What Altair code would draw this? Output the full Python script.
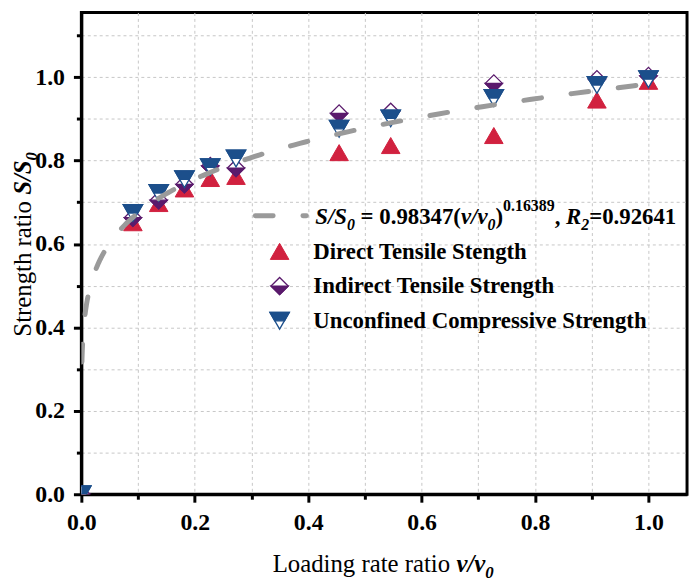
import altair as alt
import numpy as np
import pandas as pd

# ---------------- data ----------------
ratio = [0.0, 0.0909, 0.1364, 0.1818, 0.2273, 0.2727, 0.4545, 0.5455, 0.7273, 0.9091, 1.0]
direct_tensile = [0.0, 0.651, 0.697, 0.732, 0.757, 0.762, 0.819, 0.836, 0.860, 0.945, 0.990]
indirect_tensile = [0.0, 0.663, 0.705, 0.743, 0.787, 0.782, 0.913, 0.917, 0.985, 0.995, 1.003]
unconfined_comp = [0.0, 0.674, 0.722, 0.755, 0.784, 0.805, 0.876, 0.901, 0.950, 0.981, 0.995]

fit_a = 0.98347
fit_b = 0.16389
fit_x = list(np.geomspace(0.001, 1.0, 240))
fit_y = [fit_a * v ** fit_b for v in fit_x]

x_ticks = [round(i * 0.1, 1) for i in range(11)]
y_ticks = [round(i * 0.1, 1) for i in range(12)]

legend_labels = ["Direct Tensile Stength", "Indirect Tensile Strength",
                 "Unconfined Compressive Strength"]

# ---------------- style ----------------
RED = "#d1213f"
PURPLE = "#5a1a6c"
BLUE = "#1c4f8b"
GREY = "#9a9a9a"
FONT = "Liberation Serif"

W, H = 611, 486
XS = alt.Scale(domain=[0, 1.068], nice=False, zero=False)
YS = alt.Scale(domain=[0, 1.155], nice=False, zero=False)

even = "round(datum.value*10) % 2 == 0"


def make_axis(values, pad):
    return alt.Axis(
        values=values,
        labelExpr=f"{even} ? format(datum.value, '.1f') : ''",
        tickSize={"condition": {"test": even, "value": 8}, "value": 5},
        tickWidth=3, tickColor="black",
        domainWidth=3, domainColor="black",
        grid=True, gridDash=[3, 3], gridColor="#c6c6c6", gridWidth=1,
        labelFont=FONT, labelFontSize=24, labelFontWeight="bold",
        labelColor="black", labelPadding=pad, labelFlush=False,
        labelOverlap=False, title=None,
    )


XAX = make_axis(x_ticks, 9)
YAX = make_axis(y_ticks, 9)

TRI_UP = "M0,-0.866L1,0.866L-1,0.866Z"
TRI_DOWN = "M-1,-0.866L1,-0.866L0,0.866Z"
TRI_DOWN_TOP = "M-1,-0.866L1,-0.866L0.5,0L-0.5,0Z"
DIAM = "M-1,0L0,-1L1,0L0,1Z"
DIAM_BOT = "M-1,0L1,0L0,1Z"

S_RED, S_DIA, S_UCS = 350, 300, 380


def enc(ch):
    return ch.encode(
        x=alt.X("x:Q", scale=XS, axis=XAX),
        y=alt.Y("y:Q", scale=YS, axis=YAX),
    )


df_d = pd.DataFrame({"x": ratio, "y": direct_tensile})
df_i = pd.DataFrame({"x": ratio, "y": indirect_tensile})
df_u = pd.DataFrame({"x": ratio, "y": unconfined_comp})
df_f = pd.DataFrame({"x": fit_x, "y": fit_y})

layers = []
layers.append(enc(alt.Chart(df_d).mark_point(shape=TRI_UP, size=S_RED, filled=True,
                                             fill=RED, stroke=RED, strokeWidth=1, opacity=1, clip=True)))
layers.append(enc(alt.Chart(df_i).mark_point(shape=DIAM, size=S_DIA, filled=True,
                                             fill="white", stroke=PURPLE, strokeWidth=1.3, opacity=1, clip=True)))
layers.append(enc(alt.Chart(df_i).mark_point(shape=DIAM_BOT, size=S_DIA, filled=True,
                                             fill=PURPLE, stroke=PURPLE, strokeWidth=1.3, opacity=1, clip=True)))
layers.append(enc(alt.Chart(df_u).mark_point(shape=TRI_DOWN, size=S_UCS, filled=True,
                                             fill="white", stroke=BLUE, strokeWidth=1.3, opacity=1, clip=True)))
layers.append(enc(alt.Chart(df_u).mark_point(shape=TRI_DOWN_TOP, size=S_UCS, filled=True,
                                             fill=BLUE, stroke=BLUE, strokeWidth=1.3, opacity=1, clip=True)))
layers.append(enc(alt.Chart(df_f).mark_line(color=GREY, strokeWidth=5, strokeDash=[18, 30],
                                            strokeCap="round", clip=True)))

ONE = pd.DataFrame({"k": [0]})

# width tables (per 1000 em) for Times-like fonts
W_B = {" ": 250, "=": 570, ".": 250, "(": 333, ")": 333, ",": 250}
W_BI = {"S": 556, "/": 278, "v": 444, "R": 667}
W_R = {" ": 250, "L": 611, "o": 500, "a": 444, "d": 500, "i": 278, "n": 500, "g": 500,
       "r": 333, "t": 278, "e": 444, "S": 556, "h": 500}


def width(s, style, size):
    tab = {"b": W_B, "bi": W_BI, "r": W_R}[style]
    return sum(tab.get(c, 500) for c in s) * size / 1000.0


def text_layer(s, x, y, size, style, angle=0):
    weight = "normal" if style == "r" else "bold"
    fstyle = "italic" if style == "bi" else "normal"
    return alt.Chart(ONE).mark_text(
        align="left", baseline="alphabetic", font=FONT, fontSize=size,
        fontWeight=weight, fontStyle=fstyle, color="black", angle=angle,
    ).encode(x=alt.value(x), y=alt.value(y), text=alt.value(s))


def rich_h(parts, x0, base):
    # leading/trailing spaces only advance the pen; the drawn text is stripped
    out = []
    x = x0
    for s, style, size, shift in parts:
        lead = len(s) - len(s.lstrip(" "))
        x += width(" " * lead, style, size)
        core = s.strip(" ")
        out.append(text_layer(core, x, base + shift, size, style))
        x += width(s.lstrip(" "), style, size)
    return out


def rich_v(parts, y0, base):
    out = []
    y = y0
    for s, style, size, shift in parts:
        lead = len(s) - len(s.lstrip(" "))
        y -= width(" " * lead, style, size)
        core = s.strip(" ")
        out.append(text_layer(core, base + shift, y, size, style, angle=270))
        y -= width(s.lstrip(" "), style, size)
    return out


# legend: fit line entry
layers.append(alt.Chart(ONE).mark_rule(color=GREY, strokeWidth=5, strokeDash=[18, 30],
                                       strokeCap="round").encode(
    x=alt.value(175.5), x2=alt.value(227), y=alt.value(205)))
LF, LS = 23, 16
formula = [
    ("S/S", "bi", LF, 0), ("0", "bi", LS, 6), (" = 0.98347(", "b", LF, 0),
    ("v/v", "bi", LF, 0), ("0", "bi", LS, 6), (")", "b", LF, 0),
    ("0.16389", "b", LS, -13), (", ", "b", LF, 0), ("R", "bi", LF, 0),
    ("2", "bi", LS, 6), ("=0.92641", "b", LF, 0),
]
layers += rich_h(formula, 236, 213)

# legend: marker entries
layers.append(alt.Chart(ONE).mark_point(shape=TRI_UP, size=S_RED, filled=True, fill=RED,
                                        stroke=RED, strokeWidth=1, opacity=1).encode(
    x=alt.value(200), y=alt.value(241)))
layers.append(alt.Chart(ONE).mark_point(shape=DIAM, size=S_DIA, filled=True, fill="white",
                                        stroke=PURPLE, strokeWidth=1.3, opacity=1).encode(
    x=alt.value(200), y=alt.value(276)))
layers.append(alt.Chart(ONE).mark_point(shape=DIAM_BOT, size=S_DIA, filled=True, fill=PURPLE,
                                        stroke=PURPLE, strokeWidth=1.3, opacity=1).encode(
    x=alt.value(200), y=alt.value(276)))
layers.append(alt.Chart(ONE).mark_point(shape=TRI_DOWN, size=S_UCS, filled=True, fill="white",
                                        stroke=BLUE, strokeWidth=1.3, opacity=1).encode(
    x=alt.value(200), y=alt.value(311)))
layers.append(alt.Chart(ONE).mark_point(shape=TRI_DOWN_TOP, size=S_UCS, filled=True, fill=BLUE,
                                        stroke=BLUE, strokeWidth=1.3, opacity=1).encode(
    x=alt.value(200), y=alt.value(311)))
for lab, yb in zip(legend_labels, [249, 283, 318]):
    layers.append(text_layer(lab, 234, yb, LF, "b"))

# axis titles
TF, TS = 25, 17
xtitle = [("Loading rate ratio ", "r", TF, 0), ("v/v", "bi", TF, 0), ("0", "bi", TS, 6)]
layers += rich_h(xtitle, 193, 564)
ytitle = [("Strength ratio ", "r", TF, 0), ("S/S", "bi", TF, 0), ("0", "bi", TS, 6)]
layers += rich_v(ytitle, 327, -51)

chart = alt.layer(*layers).properties(
    width=W, height=H,
    autosize=alt.AutoSizeParams(type="none"),
    padding={"left": 74, "top": 2, "right": 4, "bottom": 86},
).configure_view(stroke="black", strokeWidth=3)

chart.save("out.html", embed_options={"renderer": "svg", "actions": False})
